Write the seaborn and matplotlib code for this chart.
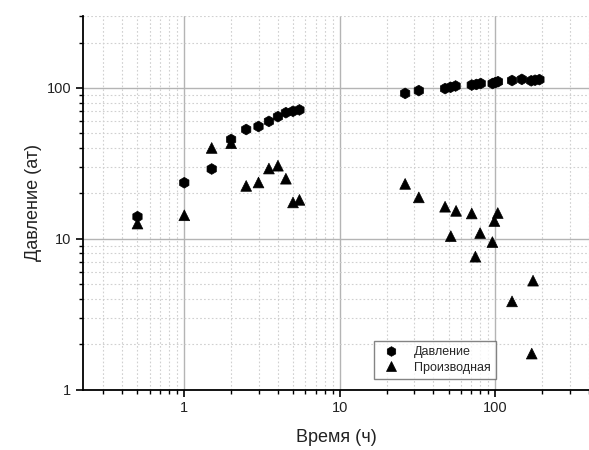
import numpy as np
import pandas as pd
import matplotlib
matplotlib.use("Agg")
import matplotlib.pyplot as plt
import seaborn as sns
from matplotlib.ticker import LogLocator, NullFormatter, FixedLocator, FixedFormatter

# --- data ---
p_time = [0.5, 1.0, 1.5, 2.0, 2.5, 3.0, 3.5, 4.0, 4.5, 5.0, 5.5,
          26.3, 32.2, 47.5, 51.5, 55.5, 70.5, 75.5, 80.5, 96, 100, 104,
          128, 148, 170, 180, 192]
p_value = [14.0, 23.5, 29.0, 45.5, 53.0, 55.5, 60.0, 64.5, 68.5, 70.0, 71.5,
           92, 96, 99, 101, 103, 104.5, 105.5, 107, 107, 108.5, 110,
           112, 114, 111.5, 112.5, 113.5]

d_time = [0.5, 1.0, 1.5, 2.0, 2.5, 3.0, 3.5, 4.0, 4.5, 5.0, 5.5,
          26.3, 32.2, 47.5, 51.7, 55.9, 70.5, 74.4, 79.8, 95.7, 98.6, 103.6,
          128, 174.7, 171.4]
d_value = [12.6, 14.3, 40.0, 43.0, 22.4, 23.6, 29.2, 30.5, 25.0, 17.4, 18.1,
           23.1, 18.8, 16.3, 10.4, 15.3, 14.7, 7.6, 10.9, 9.5, 13.1, 14.8,
           3.84, 5.27, 1.73]

series_names = ["Давление", "Производная"]
x_ticks = [1, 10, 100]
x_tick_labels = ["1", "10", "100"]
y_ticks = [1, 10, 100]
y_tick_labels = ["1", "10", "100"]

df = pd.concat([
    pd.DataFrame({"t": p_time, "v": p_value, "s": series_names[0]}),
    pd.DataFrame({"t": d_time, "v": d_value, "s": series_names[1]}),
], ignore_index=True)

sns.set_style("white")
plt.rcParams["font.family"] = ["Liberation Sans", "DejaVu Sans"]

fig = plt.figure(figsize=(5.89, 4.5), dpi=100)
ax = fig.add_axes([83/589, 1 - 389.5/450, 1 - 83/589, (389.5 - 16)/450])

sns.scatterplot(data=df, x="t", y="v", style="s", hue="s",
                markers={series_names[0]: "h", series_names[1]: "^"},
                palette={series_names[0]: "black", series_names[1]: "black"},
                s=60, edgecolor="black", linewidth=0.5, ax=ax, zorder=3)

ax.set_xscale("log")
ax.set_yscale("log")
ax.set_xlim(0.2232, 400)
ax.set_ylim(1, 300)

ax.xaxis.set_major_locator(FixedLocator(x_ticks))
ax.xaxis.set_major_formatter(FixedFormatter(x_tick_labels))
ax.yaxis.set_major_locator(FixedLocator(y_ticks))
ax.yaxis.set_major_formatter(FixedFormatter(y_tick_labels))
ax.xaxis.set_minor_locator(LogLocator(base=10, subs=np.arange(2, 10), numticks=20))
ax.yaxis.set_minor_locator(LogLocator(base=10, subs=np.arange(2, 10), numticks=20))
ax.xaxis.set_minor_formatter(NullFormatter())
ax.yaxis.set_minor_formatter(NullFormatter())

ax.grid(True, which="major", color="#b4b4b4", linewidth=1.0, linestyle="-", zorder=0)
ax.grid(True, which="minor", color="#d0d0d0", linewidth=0.8, linestyle=(0, (1.5, 2.0)), zorder=0)
ax.set_axisbelow(True)

for side in ["top", "right"]:
    ax.spines[side].set_visible(False)
for side in ["left", "bottom"]:
    ax.spines[side].set_color("black")
    ax.spines[side].set_linewidth(1.3)

ax.tick_params(which="major", direction="out", length=5, width=1.2, colors="black",
               labelsize=10.5, labelcolor="#222222", left=True, bottom=True)
ax.tick_params(which="minor", direction="out", length=3, width=1.0, colors="black",
               left=True, bottom=True)

ax.set_xlabel("Время (ч)", fontsize=13, color="#222222", labelpad=10)
ax.set_ylabel("Давление (ат)", fontsize=13, color="#222222", labelpad=3)

leg = ax.legend(title=None, loc="lower left",
                bbox_to_anchor=((367.7 - 83) / (589 - 83), (389.5 - 385) / (389.5 - 16)),
                fontsize=9, frameon=True, fancybox=False, borderpad=0.4,
                handletextpad=0.8, labelspacing=0.3, markerscale=0.9)
leg.get_frame().set_edgecolor("#666666")
leg.get_frame().set_linewidth(1.0)

fig.savefig("out.png", dpi=100)
